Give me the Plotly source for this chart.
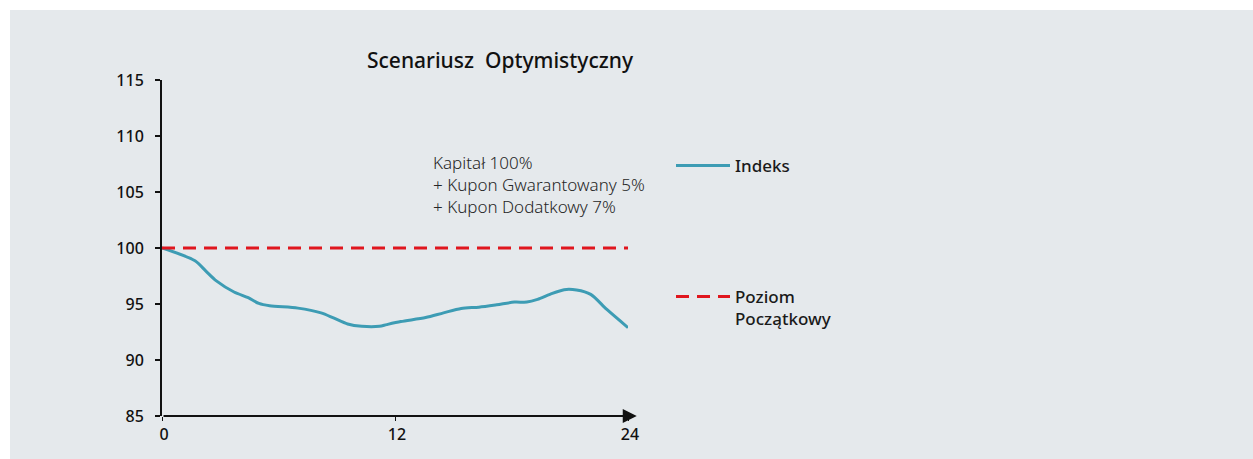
import plotly.graph_objects as go

# Data
months = [0, 1.7, 2.25, 2.8, 3.71, 4.44, 4.99, 5.54, 7.0, 8.19, 8.83, 9.56, 10.29,
          11.2, 11.57, 12.3, 13.58, 14.5, 15.41, 16.32, 17.24, 18.15, 18.79, 19.34,
          19.98, 20.71, 21.35, 22.08, 22.91, 24]
indeks = [100, 98.86, 97.96, 97.06, 96.07, 95.56, 95.05, 94.84, 94.63, 94.21, 93.76,
          93.22, 93.01, 93.01, 93.16, 93.43, 93.79, 94.21, 94.60, 94.72, 94.93, 95.17,
          95.17, 95.41, 95.86, 96.28, 96.25, 95.86, 94.51, 92.89]
poziom_x = [0, 24]
poziom_y = [100, 100]
y_ticks = [85, 90, 95, 100, 105, 110, 115]
x_ticks = [0, 12, 24]
x_ticklabels = ["0", "12", "24"]

title_text = "Scenariusz\u00a0\u00a0Optymistyczny"
note_lines = ["Kapitał 100%", "+ Kupon Gwarantowany 5%", "+ Kupon Dodatkowy 7%"]

W, H = 1253, 459
L, R, T, B = 162, 625, 80, 43

BG = "#e5e9ec"
TEAL = "#3d9cb4"
RED = "#e0161e"
FONT = "Noto Sans"

fig = go.Figure()
fig.add_trace(go.Scatter(
    x=months, y=indeks, mode="lines", name="Indeks",
    line=dict(color=TEAL, width=3, shape="spline", smoothing=0.8),
    legend="legend",
))
fig.add_trace(go.Scatter(
    x=poziom_x, y=poziom_y, mode="lines", name="Poziom<br>Początkowy",
    line=dict(color=RED, width=3, dash="13px,8px"),
    legend="legend2",
))

pw = W - L - R
ph = H - T - B
def px2paper_x(px):
    return (px - L) / pw
def px2paper_y(py):
    return (H - B - py) / ph

# grey background panel with thin white border
fig.add_shape(type="rect", xref="paper", yref="paper", layer="below",
              x0=px2paper_x(10), x1=px2paper_x(1253),
              y0=px2paper_y(460), y1=px2paper_y(10),
              fillcolor=BG, line=dict(width=0))

# x axis drawn as an arrow
fig.add_annotation(x=24.45, y=85, ax=0, ay=85, xref="x", yref="y",
                   axref="x", ayref="y", text="", showarrow=True,
                   arrowhead=2, arrowsize=1.4, arrowwidth=2, arrowcolor="#111111")

fig.add_annotation(x=px2paper_x(431), y=px2paper_y(149), xref="paper", yref="paper",
                   xanchor="left", yanchor="top", align="left", showarrow=False,
                   text="<br>".join(note_lines),
                   font=dict(family=FONT, size=17, color="#262626", weight=300))

font_legend = dict(family=FONT, size=17, color="#1a1a1a", weight=500)
fig.update_layout(
    width=W, height=H,
    paper_bgcolor="white", plot_bgcolor=BG,
    margin=dict(l=L, r=R, t=T, b=B),
    title=dict(text=title_text, xref="container", yref="container",
               x=500 / W, y=1 - 61 / H, xanchor="center", yanchor="middle",
               font=dict(family=FONT, size=21, color="#111111", weight=500)),
    xaxis=dict(range=[0, 24], tickvals=x_ticks, ticktext=x_ticklabels,
               showline=False, showgrid=False, zeroline=False,
               ticks="outside", ticklen=4, tickcolor="#111111", ticklabelshift=2,
               tickfont=dict(family=FONT, size=16, color="#111111", weight=500)),
    yaxis=dict(range=[85, 115], tickvals=y_ticks, showline=True, linecolor="#111111",
               linewidth=2, showgrid=False, zeroline=False,
               ticks="outside", ticklen=5, tickcolor="#111111", tickwidth=1.5,
               ticklabelstandoff=8,
               tickfont=dict(family=FONT, size=16, color="#111111", weight=500)),
    showlegend=True,
    legend=dict(x=px2paper_x(671), y=px2paper_y(166), xanchor="left", yanchor="middle",
                bgcolor="rgba(0,0,0,0)", font=font_legend, itemwidth=54),
    legend2=dict(x=px2paper_x(671), y=px2paper_y(279), xanchor="left", yanchor="top",
                 bgcolor="rgba(0,0,0,0)", font=font_legend, itemwidth=54, valign="top"),
)

fig.write_html("out.html", config={"displayModeBar": False},
               post_script="document.body.style.margin='0';")
